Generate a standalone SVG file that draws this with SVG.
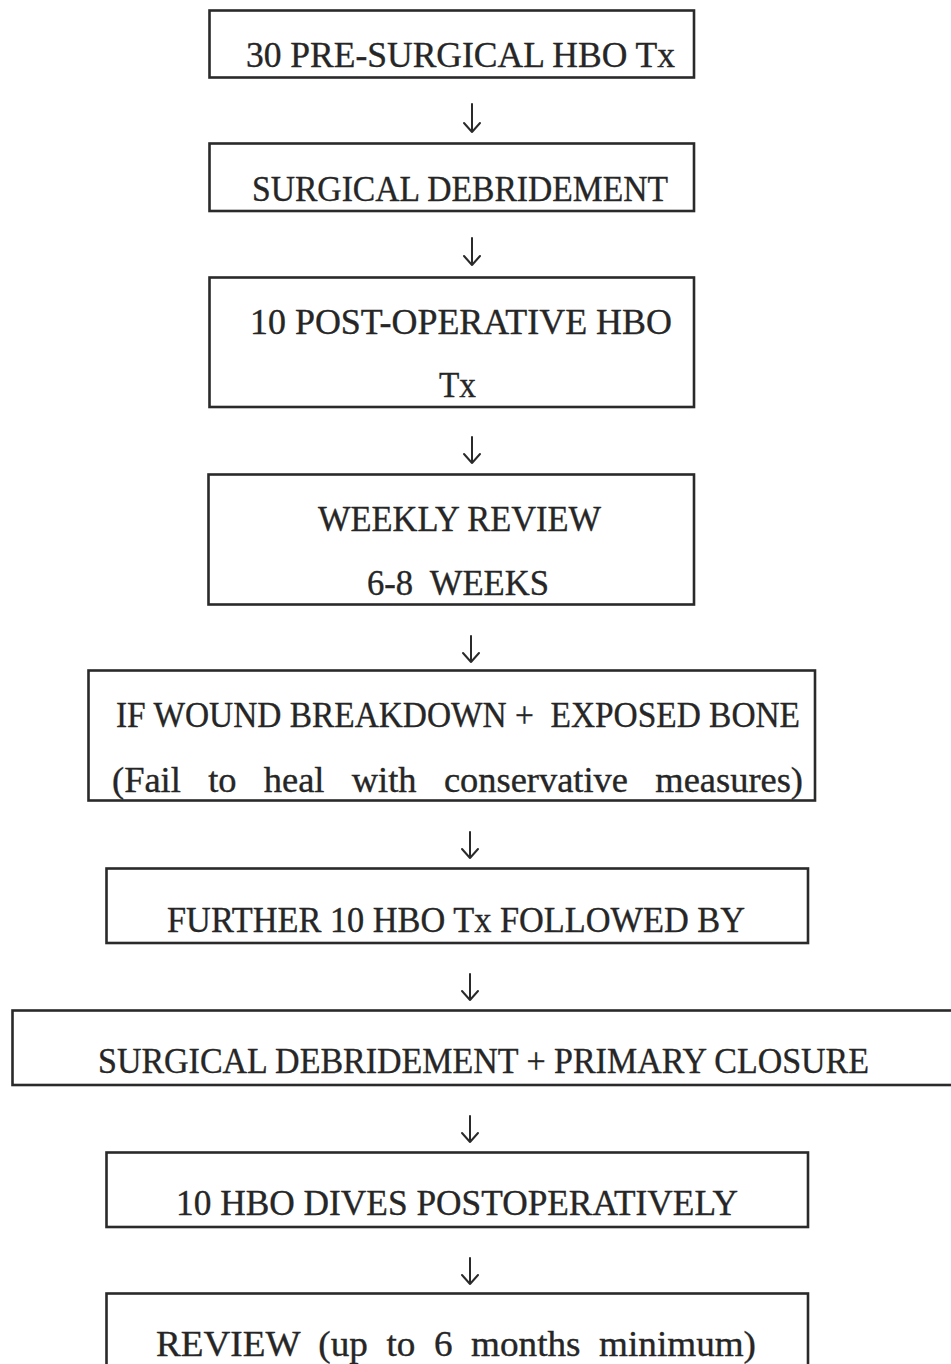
<svg xmlns="http://www.w3.org/2000/svg" width="951" height="1364" viewBox="0 0 951 1364">
  <style>
    .box { fill: none; stroke: #2a2a2a; stroke-width: 2.6; }
    .lbl { font-family: "Liberation Serif", "Times New Roman", serif; font-size: 35px; fill: #262626; stroke: #262626; stroke-width: 0.35; white-space: pre; }
    .arr { fill: none; stroke: #2a2a2a; stroke-width: 2; stroke-linecap: round; stroke-linejoin: round; }
  </style>
  <rect x="0" y="0" width="951" height="1364" fill="#ffffff"/>

  <g id="n1">
    <rect class="box" x="209.5" y="10.5" width="484.5" height="67"/>
    <text class="lbl" x="246" y="67" textLength="429" lengthAdjust="spacingAndGlyphs">30 PRE-SURGICAL HBO Tx</text>
  </g>
  <g id="n2">
    <rect class="box" x="209.5" y="143.5" width="484.5" height="67.5"/>
    <text class="lbl" x="252" y="201" textLength="416" lengthAdjust="spacingAndGlyphs">SURGICAL DEBRIDEMENT</text>
  </g>
  <g id="n3">
    <rect class="box" x="209.5" y="277.5" width="484.5" height="129.5"/>
    <text class="lbl" x="250" y="334" textLength="422" lengthAdjust="spacingAndGlyphs">10 POST-OPERATIVE HBO</text>
    <text class="lbl" x="439" y="397" textLength="37" lengthAdjust="spacingAndGlyphs">Tx</text>
  </g>
  <g id="n4">
    <rect class="box" x="208.5" y="474.5" width="485.5" height="130"/>
    <text class="lbl" x="318" y="531" textLength="283" lengthAdjust="spacingAndGlyphs">WEEKLY REVIEW</text>
    <text class="lbl" xml:space="preserve" x="367" y="595" textLength="182" lengthAdjust="spacingAndGlyphs">6-8  WEEKS</text>
  </g>
  <g id="n5">
    <rect class="box" x="88.5" y="670.5" width="726.5" height="130"/>
    <text class="lbl" xml:space="preserve" x="116" y="727" textLength="684" lengthAdjust="spacingAndGlyphs">IF WOUND BREAKDOWN +  EXPOSED BONE</text>
    <text class="lbl" xml:space="preserve" x="112" y="792" textLength="691" lengthAdjust="spacingAndGlyphs">(Fail   to   heal   with   conservative   measures)</text>
  </g>
  <g id="n6">
    <rect class="box" x="106.5" y="868.5" width="701.5" height="74.5"/>
    <text class="lbl" x="167" y="932" textLength="578" lengthAdjust="spacingAndGlyphs">FURTHER 10 HBO Tx FOLLOWED BY</text>
  </g>
  <g id="n7">
    <rect class="box" x="12.5" y="1010.5" width="950" height="74.5" stroke-width="3"/>
    <text class="lbl" x="98" y="1073" textLength="771" lengthAdjust="spacingAndGlyphs">SURGICAL DEBRIDEMENT + PRIMARY CLOSURE</text>
  </g>
  <g id="n8">
    <rect class="box" x="106.5" y="1152.5" width="701.5" height="74.5"/>
    <text class="lbl" x="176" y="1215" textLength="562" lengthAdjust="spacingAndGlyphs">10 HBO DIVES POSTOPERATIVELY</text>
  </g>
  <g id="n9">
    <rect class="box" x="106.5" y="1293.5" width="701.5" height="90"/>
    <text class="lbl" xml:space="preserve" x="156" y="1356" textLength="600" lengthAdjust="spacingAndGlyphs">REVIEW  (up  to  6  months  minimum)</text>
  </g>

  <!-- downward connectors between steps -->
  <g id="connectors">
    <path class="arr" d="M472 104 V132 M464 123 L472 132 L480 123"/>
    <path class="arr" d="M472 238 V265 M464 256 L472 265 L480 256"/>
    <path class="arr" d="M472 437 V463 M464 454 L472 463 L480 454"/>
    <path class="arr" d="M471 636 V662 M463 653 L471 662 L479 653"/>
    <path class="arr" d="M470 832 V858 M462 849 L470 858 L478 849"/>
    <path class="arr" d="M470 974 V1000 M462 991 L470 1000 L478 991"/>
    <path class="arr" d="M470 1116 V1142 M462 1133 L470 1142 L478 1133"/>
    <path class="arr" d="M470 1258 V1284 M462 1275 L470 1284 L478 1275"/>
  </g>
</svg>
